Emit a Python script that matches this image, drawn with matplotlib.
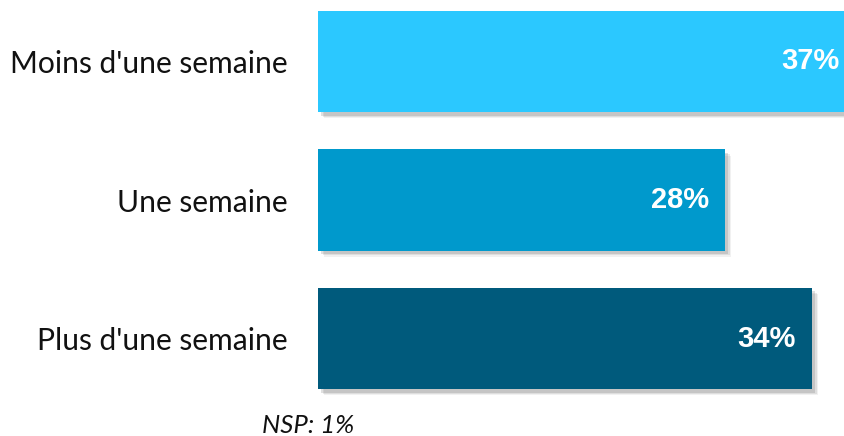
import matplotlib
matplotlib.use("Agg")
import matplotlib.pyplot as plt
import matplotlib.patheffects as pe

categories = ["Moins d'une semaine", "Une semaine", "Plus d'une semaine"]
values = [37, 28, 34]
value_labels = ["37%", "28%", "34%"]
colors = ["#2BC8FF", "#0099CC", "#005A7C"]
note = "NSP: 1%"

fig = plt.figure(figsize=(8.45, 4.36), dpi=100)
ax = fig.add_axes([318/845, 36/436, 1 - 318/845, 400/436])

ypos = list(range(len(categories)))
shadow = [pe.SimplePatchShadow(offset=(d, -d), shadow_rgbFace="#555555", alpha=a)
          for d, a in [(4.5, 0.08), (3.5, 0.12), (2.5, 0.18)]] + [pe.Normal()]
bars = ax.barh(ypos, values, height=0.73, color=colors, zorder=2)
for b in bars:
    b.set_path_effects(shadow)

ax.set_ylim(2.444, -0.444)
ax.set_xlim(0, 527/14.53)

for y, v, lab in zip(ypos, values, value_labels):
    ax.annotate(lab, xy=(v, y), xytext=(-11.5, 0), textcoords="offset points",
                ha="right", va="center", color="white", fontsize=21,
                fontweight="bold", family="Liberation Sans", zorder=3,
                annotation_clip=False)

ax.set_yticks(ypos)
ax.set_yticklabels(categories, fontsize=21.6, family="Lato", color="#111111")
ax.tick_params(axis="y", length=0, pad=22)
ax.set_xticks([])
for s in ax.spines.values():
    s.set_visible(False)

fig.text(308/845, 1 - 425/436, note, ha="center", va="center",
         fontsize=18.5, style="italic", family="Lato", color="#111111")

fig.savefig("out.png", dpi=100)
